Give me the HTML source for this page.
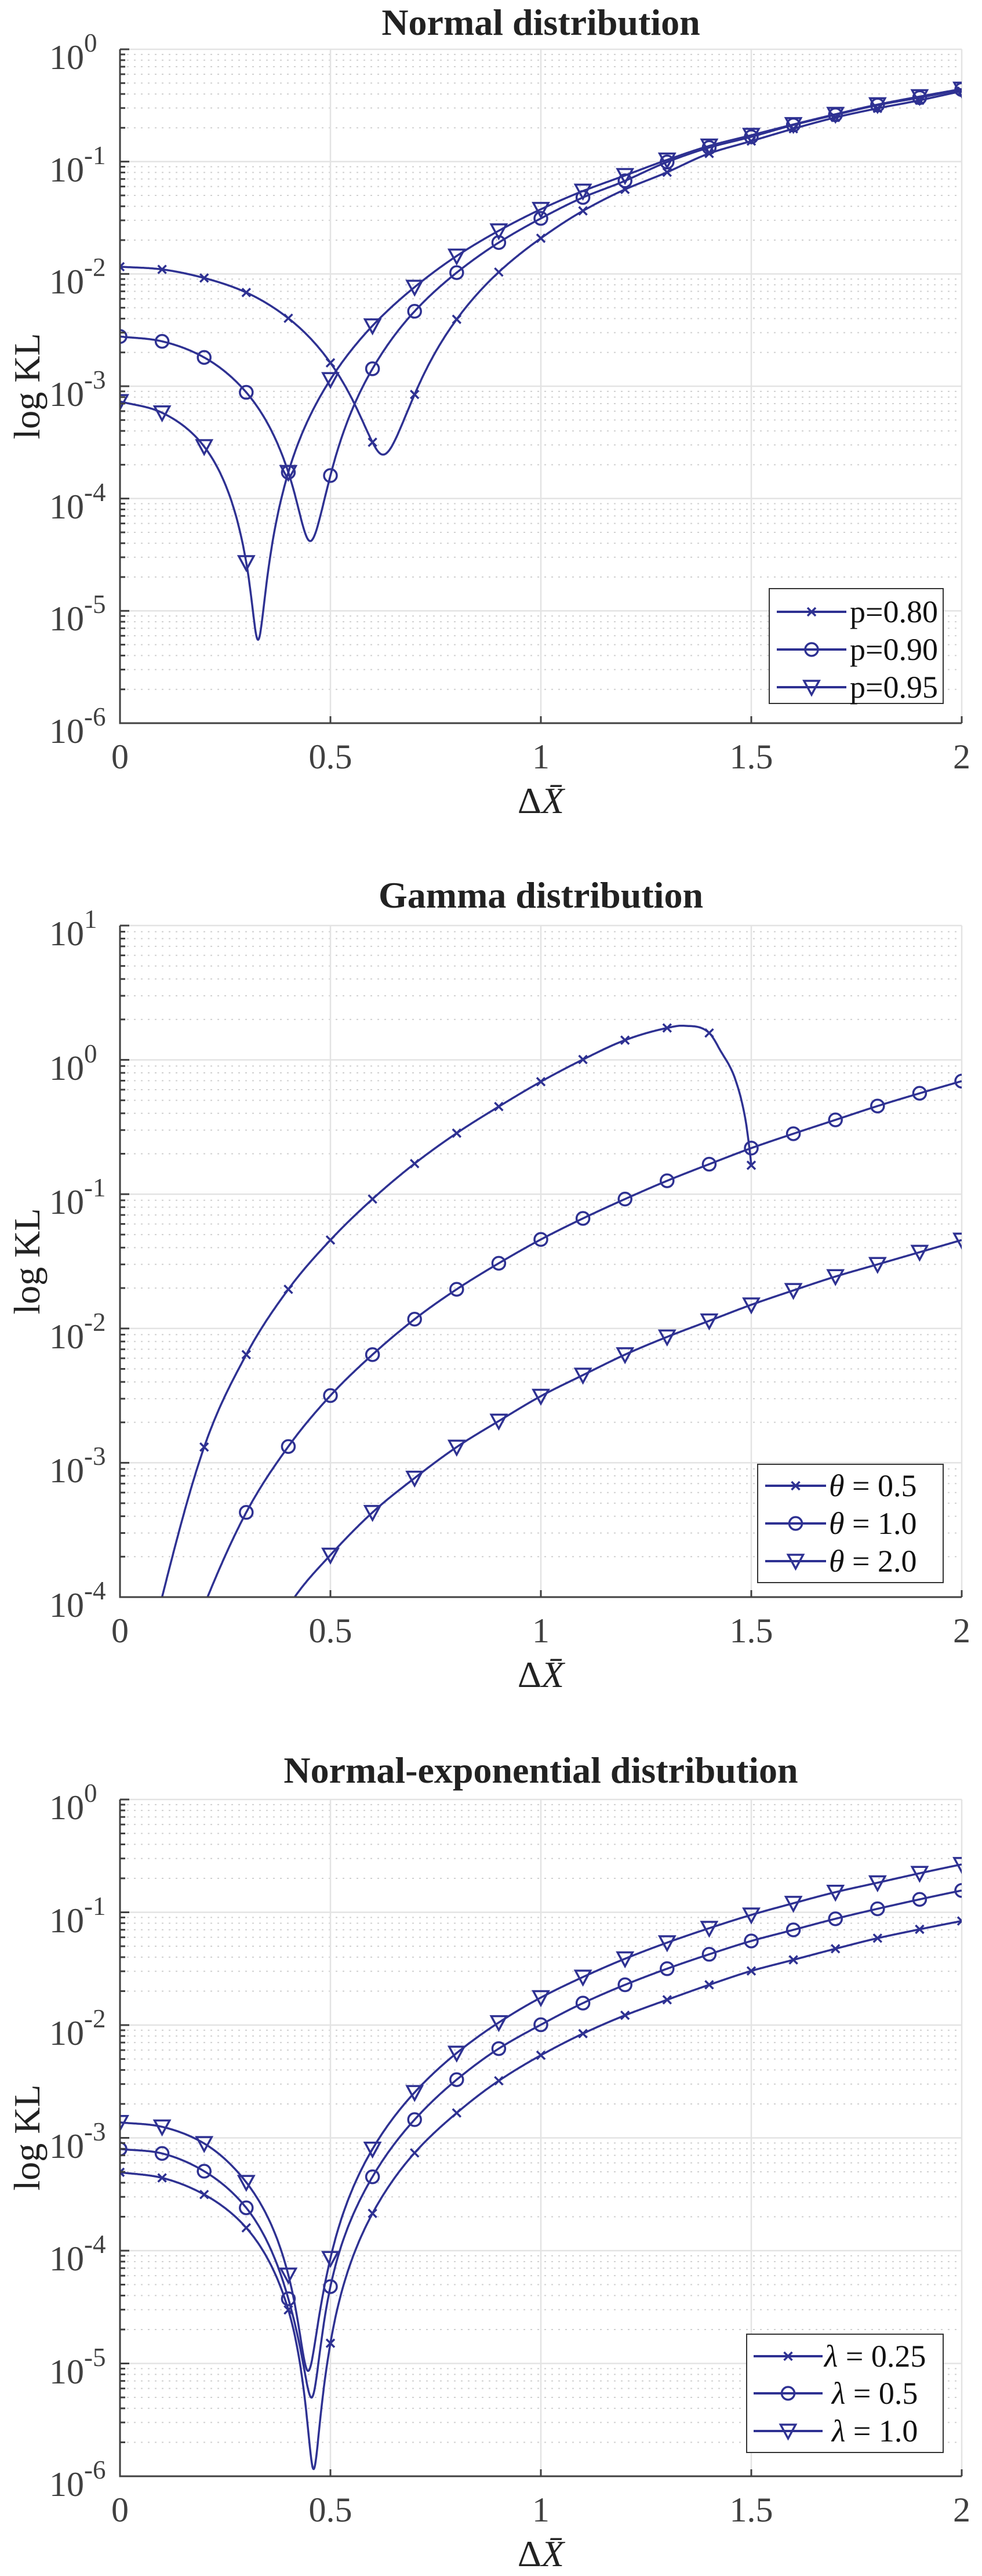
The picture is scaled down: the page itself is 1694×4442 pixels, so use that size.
<!DOCTYPE html>
<html><head><meta charset="utf-8"><style>
html,body{margin:0;padding:0;background:#fff;}
svg{display:block;}
text{font-family:"Liberation Serif","DejaVu Serif",serif;}
</style></head><body>
<svg id="s" width="1694" height="4442" viewBox="0 0 1694 4442" xmlns="http://www.w3.org/2000/svg">
<rect width="1694" height="4442" fill="#fff"/>
<g id="grid"></g>
<g id="curves"></g>
<g id="axes"></g>
<g id="txt" fill="#404040">
<text x="933" y="60" font-size="64" font-weight="bold" text-anchor="middle" fill="#222">Normal distribution</text>
<text x="933" y="1565" font-size="64" font-weight="bold" text-anchor="middle" fill="#222">Gamma distribution</text>
<text x="933" y="3074" font-size="64" font-weight="bold" text-anchor="middle" fill="#222">Normal-exponential distribution</text>
<text transform="translate(68,666) rotate(-90)" font-size="64" text-anchor="middle" fill="#222">log KL</text>
<text transform="translate(68,2175) rotate(-90)" font-size="64" text-anchor="middle" fill="#222">log KL</text>
<text transform="translate(68,3686) rotate(-90)" font-size="64" text-anchor="middle" fill="#222">log KL</text>
<text x="933" y="1402" font-size="64" text-anchor="middle" fill="#222">Δ<tspan font-style="italic">X̄</tspan></text>
<text x="933" y="2909" font-size="64" text-anchor="middle" fill="#222">Δ<tspan font-style="italic">X̄</tspan></text>
<text x="933" y="4425" font-size="64" text-anchor="middle" fill="#222">Δ<tspan font-style="italic">X̄</tspan></text>
<g font-size="60" text-anchor="middle">
<text x="207" y="1325">0</text><text x="570" y="1325">0.5</text><text x="933" y="1325">1</text><text x="1296" y="1325">1.5</text><text x="1659" y="1325">2</text>
<text x="207" y="2832">0</text><text x="570" y="2832">0.5</text><text x="933" y="2832">1</text><text x="1296" y="2832">1.5</text><text x="1659" y="2832">2</text>
<text x="207" y="4348">0</text><text x="570" y="4348">0.5</text><text x="933" y="4348">1</text><text x="1296" y="4348">1.5</text><text x="1659" y="4348">2</text>
</g>
<g font-size="60" text-anchor="end">
<text x="145" y="119">10</text><text x="145" y="313">10</text><text x="145" y="506">10</text><text x="145" y="700">10</text><text x="145" y="894">10</text><text x="145" y="1087">10</text><text x="145" y="1281">10</text>
<text x="145" y="1630">10</text><text x="145" y="1862">10</text><text x="145" y="2093">10</text><text x="145" y="2325">10</text><text x="145" y="2556">10</text><text x="145" y="2788">10</text>
<text x="145" y="3137">10</text><text x="145" y="3332">10</text><text x="145" y="3526">10</text><text x="145" y="3721">10</text><text x="145" y="3915">10</text><text x="145" y="4110">10</text><text x="145" y="4304">10</text>
</g>
<g font-size="45">
<text x="145" y="89">0</text><text x="145" y="283">-1</text><text x="145" y="476">-2</text><text x="145" y="670">-3</text><text x="145" y="864">-4</text><text x="145" y="1057">-5</text><text x="145" y="1251">-6</text>
<text x="145" y="1600">1</text><text x="145" y="1832">0</text><text x="145" y="2063">-1</text><text x="145" y="2295">-2</text><text x="145" y="2526">-3</text><text x="145" y="2758">-4</text>
<text x="145" y="3107">0</text><text x="145" y="3302">-1</text><text x="145" y="3496">-2</text><text x="145" y="3691">-3</text><text x="145" y="3885">-4</text><text x="145" y="4080">-5</text><text x="145" y="4274">-6</text>
</g>
</g>
<g id="legend"></g>
<g id="legtxt" font-size="54" fill="#111">
<text x="1466" y="1073">p=0.80</text>
<text x="1466" y="1138">p=0.90</text>
<text x="1466" y="1203">p=0.95</text>
<text x="1430" y="2580"><tspan font-style="italic">θ</tspan> = 0.5</text>
<text x="1430" y="2645"><tspan font-style="italic">θ</tspan> = 1.0</text>
<text x="1430" y="2710"><tspan font-style="italic">θ</tspan> = 2.0</text>
<text x="1422" y="4081"><tspan font-style="italic">λ</tspan> = 0.25</text>
<text x="1435" y="4145"><tspan font-style="italic">λ</tspan> = 0.5</text>
<text x="1435" y="4210"><tspan font-style="italic">λ</tspan> = 1.0</text>
</g>
</svg>
<script>
(function(){
var NS="http://www.w3.org/2000/svg";
var C="#2e3192";
var X0=207,XW=726,XR=1659;
function el(par,tag,attrs){var e=document.createElementNS(NS,tag);for(var k in attrs)e.setAttribute(k,attrs[k]);par.appendChild(e);return e;}
var grid=document.getElementById('grid'),curves=document.getElementById('curves'),axes=document.getElementById('axes'),leg=document.getElementById('legend');
var P=[
 {top:85,bot:1247,lmax:0,lmin:-6,dtop:92,ddec:209.2,dl:0},
 {top:1596,bot:2754,lmax:1,lmin:-4,dtop:150,ddec:242.6,dl:1},
 {top:3103,bot:4270,lmax:0,lmin:-6,dtop:160,ddec:203.3,dl:0}
];
function Y(p,l){return p.top+(p.lmax-l)/(p.lmax-p.lmin)*(p.bot-p.top);}
function X(x){return X0+x*XW;}
P.forEach(function(p,i){
 for(var d=p.lmin;d<p.lmax;d++){
  for(var k=2;k<=9;k++){var y=Y(p,d+Math.log10(k));
   el(grid,'line',{x1:X0,x2:XR,y1:y,y2:y,stroke:'#d0d0d0','stroke-width':2,'stroke-dasharray':'3 9'});
   el(axes,'line',{x1:X0,x2:X0+9,y1:y,y2:y,stroke:'#404040','stroke-width':3});}
 }
 for(var d=p.lmin;d<=p.lmax;d++){var y=Y(p,d);
  el(grid,'line',{x1:X0,x2:XR,y1:y,y2:y,stroke:'#e3e3e3','stroke-width':2.5});
  el(axes,'line',{x1:X0,x2:X0+16,y1:y,y2:y,stroke:'#404040','stroke-width':3});}
 for(var j=1;j<=4;j++){var x=X0+j*XW/2;
  el(grid,'line',{x1:x,x2:x,y1:p.top,y2:p.bot,stroke:'#e3e3e3','stroke-width':2.5});
  el(axes,'line',{x1:x,x2:x,y1:p.bot,y2:p.bot-12,stroke:'#404040','stroke-width':3});}
 el(axes,'line',{x1:X0,x2:X0,y1:p.top,y2:p.bot+1.5,stroke:'#404040','stroke-width':3});
 el(axes,'line',{x1:X0-1.5,x2:XR,y1:p.bot,y2:p.bot,stroke:'#404040','stroke-width':3});
 var cp=el(curves,'clipPath',{id:'cp'+i});el(cp,'rect',{x:X0,y:p.top,width:XW*2,height:p.bot-p.top});
});
function marker(par,type,x,y){
 if(type==='x'){el(par,'path',{d:'M'+(x-7)+' '+(y-7)+'L'+(x+7)+' '+(y+7)+'M'+(x-7)+' '+(y+7)+'L'+(x+7)+' '+(y-7),stroke:C,'stroke-width':3.5,fill:'none'});}
 else if(type==='o'){el(par,'circle',{cx:x,cy:y,r:11,stroke:C,'stroke-width':3.5,fill:'none'});}
 else {el(par,'path',{d:'M'+(x-13)+' '+(y-11)+'L'+(x+13)+' '+(y-11)+'L'+x+' '+(y+13)+'Z',stroke:C,'stroke-width':3.5,fill:'none','stroke-linejoin':'miter'});}
}
function hermite(xs,ys){
 var n=xs.length,m=[];
 for(var i=0;i<n;i++){
  if(i===0)m[i]=(ys[1]-ys[0])/(xs[1]-xs[0]);
  else if(i===n-1)m[i]=(ys[n-1]-ys[n-2])/(xs[n-1]-xs[n-2]);
  else{var a=(ys[i]-ys[i-1])/(xs[i]-xs[i-1]),b=(ys[i+1]-ys[i])/(xs[i+1]-xs[i]);m[i]=(a+b)/2;}
 }
 return function(x){
  var i=0;while(i<n-2&&x>xs[i+1])i++;
  var h=xs[i+1]-xs[i],t=(x-xs[i])/h,t2=t*t,t3=t2*t;
  return (2*t3-3*t2+1)*ys[i]+(t3-2*t2+t)*h*m[i]+(-2*t3+3*t2)*ys[i+1]+(t3-t2)*h*m[i+1];
 };
}
function series(pi,type,pts,dip){
 var p=P[pi];
 var xs=[],ls=[];
 pts.forEach(function(q){xs.push(q[0]);ls.push(p.dl-(q[1]-p.dtop)/p.ddec);});
 var f;
 var x0=xs[0],x1=xs[xs.length-1];
 if(dip!==undefined){
  var imin=dip,xm=xs[imin],mm=Math.pow(10,ls[imin]);
  var gs=xs.map(function(x,i){var v=Math.sqrt(Math.max(Math.pow(10,ls[i])-mm,0));return x<xm?-v:v;});
  var g=hermite(xs,gs);
  f=function(x){var v=g(x);return Math.log10(v*v+mm);};
 } else { f=hermite(xs,ls); }
 var d='';
 for(var x=x0;x<=x1+1e-9;x+=0.0015){var xx=Math.min(x,x1);var yy=Y(p,f(xx));yy=Math.max(Math.min(yy,p.bot+400),p.top-400);d+=(d?'L':'M')+X(xx).toFixed(1)+' '+yy.toFixed(1);}
 d+='L'+X(x1).toFixed(1)+' '+Y(p,f(x1)).toFixed(1);
 var g2=el(curves,'g',{'clip-path':'url(#cp'+pi+')'});
 el(g2,'path',{d:d,stroke:C,'stroke-width':3.5,fill:'none','stroke-linejoin':'round'});
 pts.forEach(function(q,i){
  var r=Math.round(q[0]*10);
  if(Math.abs(q[0]*10-r)<1e-6 && q[2]!==0){var y=Y(p,ls[i]);if(y<=p.bot+2&&y>=p.top-2)marker(g2,type,X(q[0]),y);}
 });
}
series(0,'x',[[0,497],[0.1,502],[0.2,518],[0.3,545],[0.4,593],[0.5,676],[0.6,824],[0.625,847],[0.7,735],[0.8,595],[0.9,507],[1.0,444],[1.1,393],[1.2,353],[1.3,321],[1.4,286],[1.5,263],[1.6,240],[1.7,219],[1.8,202],[1.9,187],[2.0,170]],7);
series(0,'o',[[0,627],[0.1,636],[0.2,666],[0.3,731],[0.4,880],[0.452,1008],[0.5,886],[0.6,687],[0.7,580],[0.8,508],[0.9,452],[1.0,407],[1.1,368],[1.2,337],[1.3,302],[1.4,275],[1.5,255],[1.6,233],[1.7,214],[1.8,196],[1.9,182],[2.0,167]],5);
series(0,'v',[[0,748],[0.1,769],[0.2,832],[0.3,1048],[0.328,1192],[0.4,880],[0.5,707],[0.6,607],[0.7,535],[0.8,477],[0.9,430],[1.0,390],[1.1,356],[1.2,327],[1.3,298],[1.4,272],[1.5,252],[1.6,232],[1.7,213],[1.8,195],[1.9,180],[2.0,166]],4);
series(1,'x',[[0.08,1430,0],[0.1,1363,0],[0.2,1092],[0.3,925],[0.4,807],[0.5,718],[0.6,644],[0.7,580],[0.8,525],[0.9,477],[1.0,432],[1.1,392],[1.2,357],[1.3,335],[1.34,331,0],[1.4,344],[1.426,375,0],[1.463,430,0],[1.486,500,0],[1.496,555,0],[1.5,583]]);
series(1,'o',[[0.19,1400,0],[0.208,1363,0],[0.3,1210],[0.4,1091],[0.5,999],[0.6,925],[0.7,861],[0.8,807],[0.9,760],[1.0,717],[1.1,679],[1.2,644],[1.3,611],[1.4,581],[1.5,552],[1.6,526],[1.7,501],[1.8,476],[1.9,453],[2.0,431]]);
series(1,'v',[[0.39,1395,0],[0.415,1363,0],[0.5,1287],[0.6,1210],[0.7,1148],[0.8,1092],[0.9,1045],[1.0,1000],[1.1,962],[1.2,925],[1.3,893],[1.4,864],[1.5,835],[1.6,809],[1.7,784],[1.8,762],[1.9,740],[2.0,718]]);
series(2,'x',[[0,832],[0.1,842],[0.2,872],[0.3,932],[0.4,1080],[0.46,1367],[0.5,1140],[0.6,906],[0.7,797],[0.8,725],[0.9,667],[1.0,621],[1.1,582],[1.2,549],[1.3,521],[1.4,494],[1.5,469],[1.6,449],[1.7,429],[1.8,410],[1.9,394],[2.0,379]],5);
series(2,'o',[[0,790],[0.1,798],[0.2,830],[0.3,896],[0.4,1060],[0.455,1238],[0.5,1038],[0.6,840],[0.7,737],[0.8,665],[0.9,609],[1.0,566],[1.1,527],[1.2,494],[1.3,465],[1.4,439],[1.5,415],[1.6,395],[1.7,375],[1.8,357],[1.9,340],[2.0,324]],5);
series(2,'v',[[0,742],[0.1,750],[0.2,780],[0.3,850],[0.4,1017],[0.447,1190],[0.5,987],[0.6,790],[0.7,688],[0.8,617],[0.9,562],[1.0,517],[1.1,480],[1.2,447],[1.3,418],[1.4,392],[1.5,368],[1.6,347],[1.7,327],[1.8,310],[1.9,293],[2.0,277]],5);
function legend(bx,by,bw,bh,l0,l1,rows){
 el(leg,'rect',{x:bx,y:by,width:bw,height:bh,fill:'#fff',stroke:'#333','stroke-width':2});
 var types=['x','o','v'];
 rows.forEach(function(ry,i){el(leg,'line',{x1:l0,x2:l1,y1:ry,y2:ry,stroke:C,'stroke-width':4});marker(leg,types[i],(l0+l1)/2,ry);});
}
legend(1327,1015,300,198,1340,1460,[1055,1120,1185]);
legend(1307,2525,320,204,1320,1425,[2562,2627,2692]);
legend(1288,4025,339,204,1300,1419,[4063,4127,4192]);
})();
</script>
</body></html>
